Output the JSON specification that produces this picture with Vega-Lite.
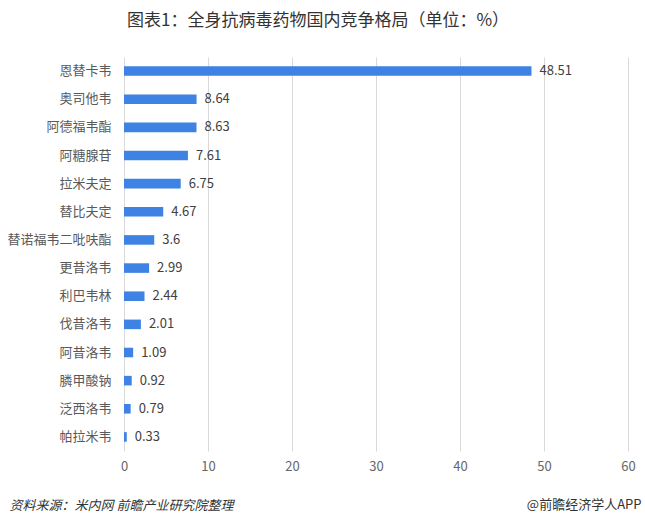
{
  "$schema": "https://vega.github.io/schema/vega-lite/v6.json",
  "width": 504,
  "height": 394,
  "autosize": {"type": "none"},
  "padding": {"left": 124, "top": 57, "right": 17, "bottom": 71},
  "background": "white",
  "config": {
    "font": "Noto Sans CJK SC",
    "view": {"stroke": null}
  },
  "title": {
    "text": "图表1：全身抗病毒药物国内竞争格局（单位：%）",
    "anchor": "middle",
    "frame": "group",
    "dx": -58,
    "offset": 27,
    "fontSize": 17,
    "fontWeight": "normal",
    "color": "#333333",
    "font": "Noto Sans CJK SC"
  },
  "data": {
    "values": [
      {"drug": "恩替卡韦", "value": 48.51},
      {"drug": "奥司他韦", "value": 8.64},
      {"drug": "阿德福韦酯", "value": 8.63},
      {"drug": "阿糖腺苷", "value": 7.61},
      {"drug": "拉米夫定", "value": 6.75},
      {"drug": "替比夫定", "value": 4.67},
      {"drug": "替诺福韦二吡呋酯", "value": 3.6},
      {"drug": "更昔洛韦", "value": 2.99},
      {"drug": "利巴韦林", "value": 2.44},
      {"drug": "伐昔洛韦", "value": 2.01},
      {"drug": "阿昔洛韦", "value": 1.09},
      {"drug": "膦甲酸钠", "value": 0.92},
      {"drug": "泛西洛韦", "value": 0.79},
      {"drug": "帕拉米韦", "value": 0.33}
    ]
  },
  "encoding": {
    "y": {
      "field": "drug",
      "type": "nominal",
      "sort": null,
      "scale": {"paddingInner": 0.66, "paddingOuter": 0.33},
      "axis": {
        "title": "@前瞻经济学人APP",
        "titleAngle": 0,
        "titleX": 517,
        "titleY": 447,
        "titleAlign": "right",
        "titleBaseline": "middle",
        "titleFontSize": 13,
        "titleFontWeight": "normal",
        "titleColor": "#333333",
        "domain": false,
        "ticks": false,
        "labelPadding": 13,
        "labelFontSize": 13,
        "labelColor": "#595959"
      }
    },
    "x": {
      "field": "value",
      "type": "quantitative",
      "scale": {"domain": [0, 60], "nice": false},
      "axis": {
        "values": [0, 10, 20, 30, 40, 50, 60],
        "grid": true,
        "gridColor": "#d9d9d9",
        "domain": false,
        "ticks": false,
        "labelFlush": false,
        "labelPadding": 9,
        "labelFontSize": 13,
        "labelColor": "#666666",
        "title": "资料来源：米内网 前瞻产业研究院整理",
        "titleAnchor": "start",
        "titleAlign": "left",
        "titleX": -115,
        "titleY": 54,
        "titleBaseline": "middle",
        "titleFontSize": 13,
        "titleFontWeight": "normal",
        "titleFontStyle": "italic",
        "titleColor": "#333333"
      }
    }
  },
  "layer": [
    {"mark": {"type": "bar", "color": "#3E82E3"}},
    {
      "mark": {"type": "text", "align": "left", "baseline": "middle", "dx": 8, "fontSize": 13, "color": "#404040"},
      "encoding": {"text": {"field": "value", "type": "quantitative"}}
    }
  ]
}
